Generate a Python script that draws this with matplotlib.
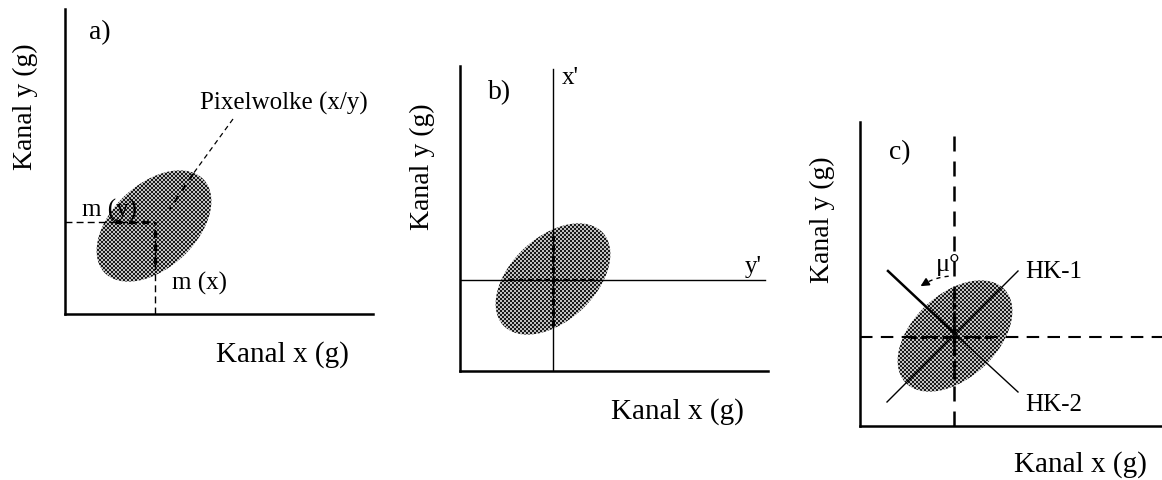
import numpy as np
import matplotlib.pyplot as plt
from matplotlib.patches import Ellipse

plt.rcParams['font.family'] = ['Liberation Serif', 'DejaVu Serif']

# Rahmen der drei Teilbilder in Pixeln (links, unten, Breite, Höhe)
panel_boxes = [(65, 166, 308, 305), (460, 109, 308, 305), (860, 54, 302, 304)]
panel_tags = ['a)', 'b)', 'c)']
tag_pos = [(35, 282), (40, 279), (40, 274)]
xlabel_pos = [(217, -40), (217, -40), (220, -38)]
ylabel_pos = [(-40, 208), (-38, 205), (-38, 207)]

# Pixelwolke je Teilbild: Mittelpunkt, Breite, Höhe, Winkel
cloud_center = [(89, 88), (93, 92), (95, 90)]
cloud_w = 136
cloud_h = 84
cloud_angle = 43

# a) Mittelwerte m(x), m(y)
mean_a = (90, 92)
# b) neue Achsen x', y'
xprime_b = 93
yprime_b = 91
# c) Hauptkomponenten
hk1 = [(27, 24), (158, 155)]
hk2 = [(28, 155), (158, 34)]
mean_c = (94, 89)


def stipple(ax, center, w, h, angle):
    # Rasterpunkte der Pixelwolke, auf die Ellipse beschnitten
    e = Ellipse(center, w, h, angle=angle, facecolor='none', edgecolor='none')
    ax.add_patch(e)
    n = 170
    x0, y0 = int(center[0] - n / 2), int(center[1] - n / 2)
    jj, ii = np.indices((n, n))
    tex = np.where((ii // 2 + jj // 2) % 2 == 0, 0.1, 0.75)
    im = ax.imshow(tex, cmap='gray', vmin=0, vmax=1, extent=(x0, x0 + n, y0, y0 + n),
                   interpolation='nearest', aspect='auto', origin='lower', zorder=1)
    im.set_clip_path(e)


fig = plt.figure(figsize=(11.62, 4.81), dpi=100)
axes = []
for i, (l, b, w, h) in enumerate(panel_boxes):
    ax = fig.add_axes([l / 1162, b / 481, w / 1162, h / 481])
    stipple(ax, cloud_center[i], cloud_w, cloud_h, cloud_angle)
    ax.set_xlim(0, w)
    ax.set_ylim(0, h)
    for s in ['top', 'right']:
        ax.spines[s].set_visible(False)
    for s in ['left', 'bottom']:
        ax.spines[s].set_linewidth(1.8)
    ax.set_xticks([])
    ax.set_yticks([])
    ax.patch.set_alpha(0)
    ax.text(*tag_pos[i], panel_tags[i], fontsize=20, ha='center', va='center')
    ax.text(*xlabel_pos[i], 'Kanal x (g)', fontsize=21, ha='center', va='center', clip_on=False)
    ax.text(*ylabel_pos[i], 'Kanal y (g)', fontsize=20, ha='center', va='center',
            rotation=90, clip_on=False)
    axes.append(ax)

# --- a) ---
ax = axes[0]
mx, my = mean_a
ax.plot([0, mx], [my, my], color='black', lw=1, ls=(0, (5, 3)))
ax.plot([mx, mx], [0, my], color='black', lw=1, ls=(0, (5, 3)))
ax.plot([50, mx], [my, my], color='black', lw=2.4, ls=(0, (2, 2)))
ax.plot([mx, mx], [50, my], color='black', lw=2.4, ls=(0, (2, 2)))
ax.plot([168, 128], [195, 140], color='black', lw=0.9, ls=(0, (4, 3)))
ax.plot([128, 105], [140, 105], color='black', lw=1.6, ls=(0, (3, 3)))
ax.text(135, 212, 'Pixelwolke (x/y)', fontsize=18, ha='left', va='center')
ax.text(17, 105, 'm (y)', fontsize=18, ha='left', va='center')
ax.text(107, 32, 'm (x)', fontsize=18, ha='left', va='center')

# --- b) ---
ax = axes[1]
ax.plot([xprime_b, xprime_b], [0, 302], color='black', lw=1)
ax.plot([0, 305], [yprime_b, yprime_b], color='black', lw=1)
ax.plot([xprime_b, xprime_b], [45, 135], color='black', lw=2.2, ls=(0, (2, 1.5)))
ax.plot([50, 137], [yprime_b, yprime_b], color='black', lw=1.6, ls=(0, (2, 2)))
ax.text(102, 294, "x'", fontsize=18, ha='left', va='center')
ax.text(285, 105, "y'", fontsize=18, ha='left', va='center')

# --- c) ---
ax = axes[2]
cx, cy = mean_c
ax.plot([cx, cx], [0, 297], color='black', lw=1.8, ls=(0, (6, 4)))
ax.plot([0, 302], [cy, cy], color='black', lw=1.5, ls=(0, (6, 4)))
ax.plot([cx, cx], [47, 134], color='black', lw=2.4, ls=(0, (2, 1.5)))
ax.plot([50, 137], [cy, cy], color='black', lw=2.2, ls=(0, (2, 1.5)))
ax.plot([p[0] for p in hk1], [p[1] for p in hk1], color='black', lw=1)
ax.plot([hk2[0][0], cx], [hk2[0][1], 93], color='black', lw=1.8)
ax.plot([cx, hk2[1][0]], [93, hk2[1][1]], color='black', lw=1)
ax.text(165, 155, 'HK-1', fontsize=18, ha='left', va='center')
ax.text(165, 22, 'HK-2', fontsize=18, ha='left', va='center')
ax.text(76, 162, 'μ°', fontsize=19, ha='left', va='center')
# Winkel zwischen y-Achse und HK-2
ang = np.radians(np.linspace(95, 118, 20))
r = 61
ax.plot(cx + r * np.cos(ang), cy + r * np.sin(ang), color='black', lw=1, ls=(0, (3, 3)))
ax.annotate('', xy=(cx + r * np.cos(np.radians(126)), cy + r * np.sin(np.radians(126))),
            xytext=(cx + r * np.cos(np.radians(117)), cy + r * np.sin(np.radians(117))),
            arrowprops=dict(arrowstyle='-|>', color='black', lw=1.2, mutation_scale=12))

fig.savefig('out.png', dpi=100)
